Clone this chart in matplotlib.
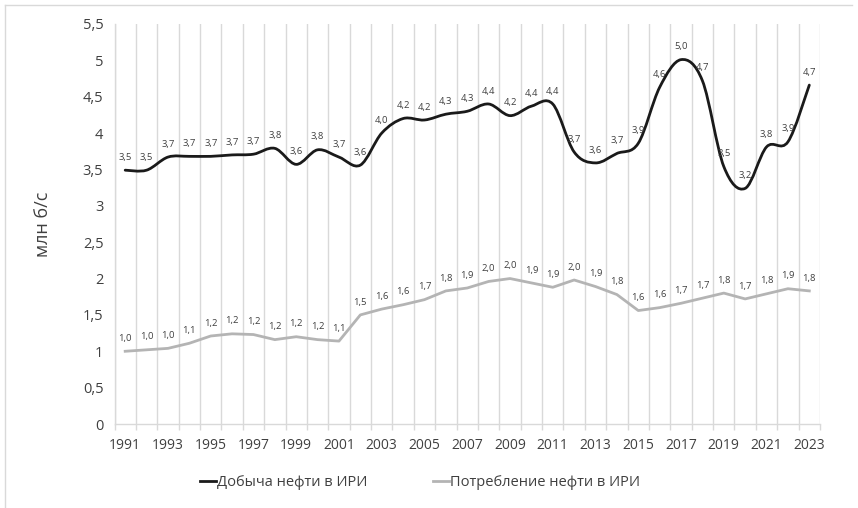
import matplotlib
matplotlib.use("Agg")
import matplotlib.pyplot as plt
from matplotlib.path import Path
from matplotlib.patches import PathPatch
from matplotlib.lines import Line2D
import numpy as np

years = list(range(1991, 2024))
production = [3.49, 3.49, 3.67, 3.68, 3.68, 3.70, 3.71, 3.79, 3.57, 3.77, 3.67,
              3.56, 4.00, 4.20, 4.18, 4.26, 4.30, 4.40, 4.24, 4.37, 4.40, 3.74,
              3.59, 3.72, 3.86, 4.63, 5.01, 4.72, 3.54, 3.24, 3.81, 3.88, 4.66]
consumption = [1.00, 1.02, 1.04, 1.11, 1.21, 1.24, 1.23, 1.16, 1.20, 1.16, 1.14,
               1.50, 1.58, 1.64, 1.71, 1.83, 1.87, 1.96, 2.00, 1.94, 1.88, 1.98,
               1.89, 1.78, 1.56, 1.60, 1.66, 1.73, 1.80, 1.72, 1.79, 1.86, 1.83]
series_names = ["Добыча нефти в ИРИ", "Потребление нефти в ИРИ"]
y_label = "млн б/с"

FONT = "Open Sans"
TXT = "#404040"
GRID = "#d9d9d9"
C_PROD = "#1a1a1a"
C_CONS = "#b4b4b4"

plt.rcParams['font.family'] = [FONT, 'DejaVu Sans']

fig = plt.figure(figsize=(8.58, 5.08), dpi=100)
W, H = 858, 508
ax = fig.add_axes([114.5 / W, 1 - 424 / H, (820 - 114.5) / W, (424 - 24) / H])

x = np.arange(len(years))


def smooth_path(xs, ys):
    pts = np.column_stack([xs, ys]).astype(float)
    n = len(pts)
    verts = [pts[0]]
    codes = [Path.MOVETO]
    for i in range(n - 1):
        p0 = pts[i - 1] if i > 0 else pts[i]
        p1 = pts[i]
        p2 = pts[i + 1]
        p3 = pts[i + 2] if i + 2 < n else pts[i + 1]
        c1 = p1 + (p2 - p0) / 6.0
        c2 = p2 - (p3 - p1) / 6.0
        verts += [c1, c2, p2]
        codes += [Path.CURVE4] * 3
    return Path(verts, codes)


ax.add_patch(PathPatch(smooth_path(x, production), facecolor="none",
                       edgecolor=C_PROD, lw=2.0, capstyle="round",
                       joinstyle="round", zorder=3))
ax.plot(x, consumption, color=C_CONS, lw=2.0, solid_joinstyle="round", zorder=3)


def fmt(v):
    return f"{v:.1f}".replace(".", ",")


for xi, v in zip(x, production):
    ax.annotate(fmt(v), (xi, v), xytext=(0, 6), textcoords="offset points",
                ha="center", va="bottom", fontsize=6.8, color=TXT, zorder=4)
for xi, v in zip(x, consumption):
    ax.annotate(fmt(v), (xi, v), xytext=(0, 6), textcoords="offset points",
                ha="center", va="bottom", fontsize=6.8, color=TXT, zorder=4)

ax.set_xlim(-0.5, len(years) - 0.5)
ax.set_ylim(0, 5.5)

# vertical gridlines at category boundaries
bounds = np.arange(-0.5, len(years), 1.0)
ax.set_xticks(bounds, minor=True)
ax.grid(True, which="minor", axis="x", color=GRID, lw=1.0, zorder=0)
ax.tick_params(axis="x", which="minor", length=4, color=GRID, width=1.0)
ax.set_xticks(x[::2])
ax.set_xticklabels([str(y) for y in years[::2]])
ax.tick_params(axis="x", which="major", length=0, pad=10, labelsize=10, labelcolor=TXT)

yt = np.arange(0, 5.51, 0.5)
ax.set_yticks(yt)
ax.set_yticklabels([("%g" % t).replace(".", ",") for t in yt])
ax.tick_params(axis="y", length=0, pad=8, labelsize=10.5, labelcolor=TXT)

for s in ["top", "right"]:
    ax.spines[s].set_visible(False)
for s in ["left", "bottom"]:
    ax.spines[s].set_color(GRID)
    ax.spines[s].set_linewidth(1.0)

ax.set_ylabel(y_label, fontsize=13, color=TXT, labelpad=22)

handles = [Line2D([], [], color=C_PROD, lw=2.0), Line2D([], [], color=C_CONS, lw=2.0)]
fig.legend(handles, series_names, loc="center", bbox_to_anchor=(420 / W, 1 - 483 / H),
           ncol=2, frameon=False, fontsize=10.5, labelcolor=TXT,
           handlelength=1.1, handletextpad=0.05, columnspacing=4.5)

# chart border (top and left visible)
fig.add_artist(Line2D([5 / W, 852 / W], [1 - 5 / H, 1 - 5 / H], color=GRID, lw=1.0,
                      transform=fig.transFigure))
fig.add_artist(Line2D([5 / W, 5 / W], [1 - 5 / H, 0], color=GRID, lw=1.0,
                      transform=fig.transFigure))

fig.savefig("out.png", dpi=100)
